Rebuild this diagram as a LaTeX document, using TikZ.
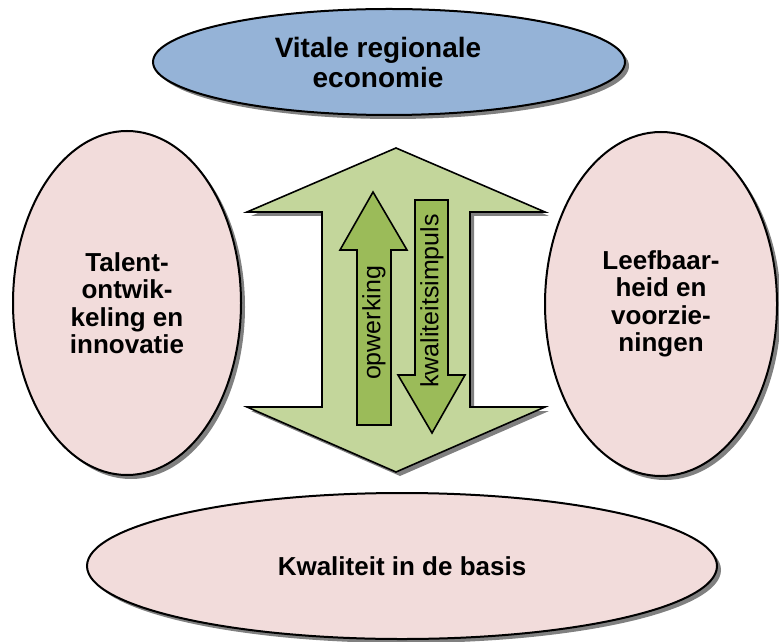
\documentclass[tikz,border=0pt]{standalone}
\usepackage{fontspec}
\setmainfont{Liberation Sans}
\usetikzlibrary{shapes.geometric,shadows}
\definecolor{econblue}{HTML}{95B3D7}
\definecolor{basispink}{HTML}{F2DCDB}
\definecolor{bandgreen}{HTML}{C3D69B}
\definecolor{impulsgreen}{HTML}{9BBB59}
\tikzset{
  dropgray/.style={drop shadow={shadow xshift=2pt,shadow yshift=-2pt,fill=black!50,opacity=1}},
  bubble/.style={ellipse,draw,line width=1pt,inner sep=0pt,align=center,dropgray,
    font=\bfseries\fontsize{13}{13.75}\selectfont},
  flow/.style={draw,line width=0.8pt,fill=impulsgreen},
  flowtext/.style={rotate=90,inner sep=0pt,font=\fontsize{12.5}{14}\selectfont}
}
\begin{document}
\begin{tikzpicture}[x=0.5pt,y=-0.5pt]
  \useasboundingbox (0,0) rectangle (779,641);

  % big double arrow
  \draw[dropgray,line width=0.8pt,fill=bandgreen] (396,148) -- (545,212) -- (470,212) -- (470,407) -- (545,407)
    -- (396,472) -- (247,407) -- (322,407) -- (322,212) -- (247,212) -- cycle;
  \draw[flow] (373,192) -- (407,250) -- (391,250) -- (391,425) -- (357,425) -- (357,250) -- (340,250) -- cycle;
  \draw[flow] (415,200) -- (448,200) -- (448,375) -- (465,375) -- (432,433) -- (398,375) -- (415,375) -- cycle;
  \node[flowtext] (opw) at (374,323) {opwerking};
  \node[flowtext] (kwal) at (432,301) {kwaliteitsimpuls};

  % the four domains
  \node[bubble,fill=econblue,minimum width=236pt,minimum height=53pt] (econ) at (389,62) {};
  \node[align=center,inner sep=0pt,font=\bfseries\fontsize{14}{15}\selectfont] (econtext)
    at ([xshift=-5.5pt]econ.center) {Vitale regionale\\economie};
  \node[bubble,fill=basispink,minimum width=114pt,minimum height=172pt] (talent) at (127,303)
    {Talent-\\ontwik-\\keling en\\innovatie};
  \node[bubble,fill=basispink,minimum width=116pt,minimum height=172pt] (leefbaar) at (661,304)
    {Leefbaar-\\heid en\\voorzie-\\ningen};
  \node[bubble,fill=basispink,minimum width=315pt,minimum height=73pt] (basis) at (402,566)
    {Kwaliteit in de basis};
\end{tikzpicture}
\end{document}
